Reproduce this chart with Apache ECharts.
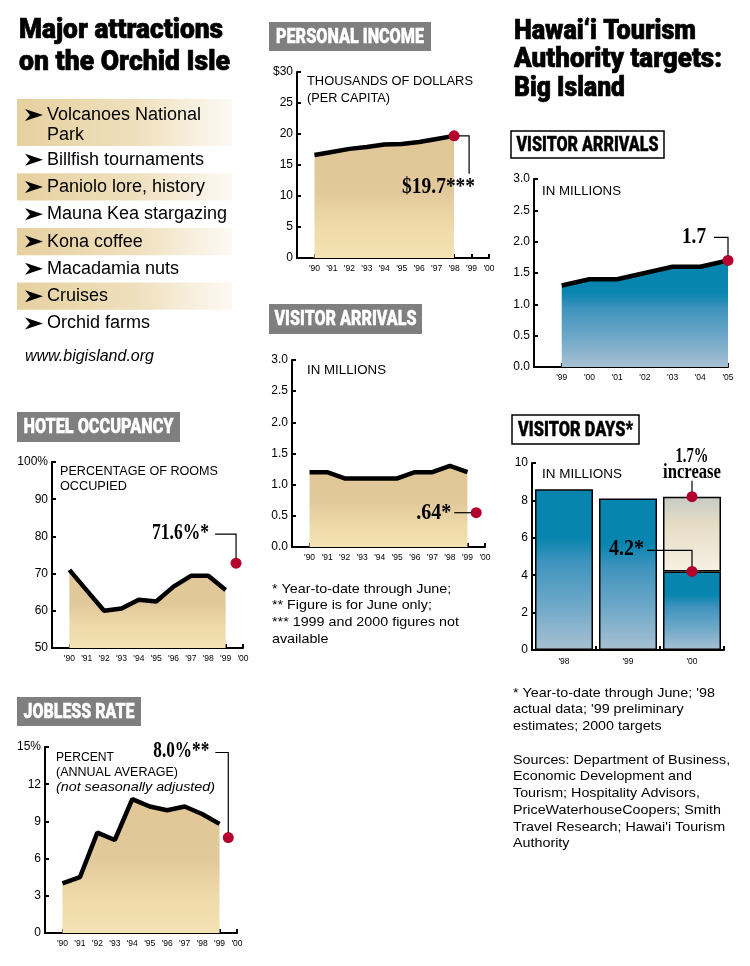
<!DOCTYPE html>
<html><head><meta charset="utf-8">
<script src="https://cdn.jsdelivr.net/npm/echarts@6/dist/echarts.min.js"></script>
<style>html,body{margin:0;padding:0;background:#fff}#c{width:750px;height:966px}</style>
</head><body><div id="c"></div>
<script>
// ---------- DATA ----------
const attractions = ['Volcanoes National\nPark', 'Billfish tournaments', 'Paniolo lore, history', 'Mauna Kea stargazing', 'Kona coffee', 'Macadamia nuts', 'Cruises', 'Orchid farms'];
const decadeYears = [1990, 1991, 1992, 1993, 1994, 1995, 1996, 1997, 1998, 1999];
const decadeTickLabels = ["'90", "'91", "'92", "'93", "'94", "'95", "'96", "'97", "'98", "'99", "'00"];
const incomeYears = [1990, 1991, 1992, 1993, 1994, 1995, 1996, 1997, 1998];
const incomeValues = [16.6, 17.1, 17.6, 17.9, 18.3, 18.4, 18.7, 19.2, 19.7];
const incomeLatest = [1998, 19.7];
const arrivalValues = [1.2, 1.2, 1.1, 1.1, 1.1, 1.1, 1.2, 1.2, 1.3, 1.2];
const arrivalYtd = [1999.5, 0.55];
const hotelValues = [71.0, 65.5, 60.0, 60.6, 63.0, 62.5, 66.5, 69.4, 69.4, 65.6];
const hotelYtd = [1999.6, 72.8];
const joblessValues = [4.0, 4.5, 8.1, 7.5, 10.8, 10.2, 9.9, 10.2, 9.6, 8.8];
const joblessJune = [1999.5, 7.7];
const targetYears = [1999, 2000, 2001, 2002, 2003, 2004, 2005];
const targetTickLabels = ["'99", "'00", "'01", "'02", "'03", "'04", "'05"];
const targetArrivals = [1.3, 1.4, 1.4, 1.5, 1.6, 1.6, 1.7];
const targetLatest = [2005, 1.7];
const dayCategories = ["'98", "'99", "'00"];
const dayBase = [8.6, 8.1, 4.2];
const dayIncrease = ['-', '-', 4.0];
const dayDots = [[2, 8.2], [2, 4.2]];

// ---------- STYLE HELPERS ----------
const mctx = document.createElement('canvas').getContext('2d');
function fit(text, font, w) { mctx.font = font; return w / mctx.measureText(text).width; }
const SANS = '"Liberation Sans", Arial, sans-serif';
const HEAVY = '900 27px Roboto, "Liberation Sans", sans-serif';
const BOX = '900 20px Roboto, "Liberation Sans", sans-serif';
const SERIF = 'bold 23px "Liberation Serif", serif';
const SERIF_S = 'bold 20px "Liberation Serif", serif';
const DOT = '#b3002d';
const tanGrad = {type: 'linear', x: 0, y: 0, x2: 0, y2: 1, colorStops: [
  {offset: 0, color: '#e1c796'}, {offset: 0.45, color: '#e2c99b'}, {offset: 0.72, color: '#eed9a9'}, {offset: 1, color: '#f4e3b5'}]};
const blueGrad = {type: 'linear', x: 0, y: 0, x2: 0, y2: 1, colorStops: [
  {offset: 0, color: '#0785af'}, {offset: 0.3, color: '#0785af'}, {offset: 0.45, color: '#3e93bd'}, {offset: 0.72, color: '#6ea8c8'}, {offset: 1, color: '#a7c0d3'}]};
const creamGrad = {type: 'linear', x: 0, y: 0, x2: 0, y2: 1, colorStops: [
  {offset: 0, color: '#c6cbc6'}, {offset: 0.35, color: '#e4dcc4'}, {offset: 1, color: '#f8f1e4'}]};

function zip(xs, ys) { return xs.map((x, i) => [x, ys[i]]); }

function xYear(g, min, max, labels) {
  return {type: 'value', gridIndex: g, min, max, interval: 1,
    axisLine: {show: true, onZero: false, lineStyle: {color: '#000', width: 2}},
    axisTick: {show: true, inside: true, length: 4, lineStyle: {color: '#000', width: 2}},
    splitLine: {show: false},
    axisLabel: {fontSize: 8.5, color: '#000', margin: 6, fontFamily: SANS,
      formatter: v => labels[Math.round(v) - min - 1] || ''}};
}
function yVal(g, min, max, interval, fmt) {
  return {type: 'value', gridIndex: g, min, max, interval,
    axisLine: {show: true, onZero: false, lineStyle: {color: '#000', width: 2}},
    axisTick: {show: true, inside: true, length: 4, lineStyle: {color: '#000', width: 2}},
    splitLine: {show: false},
    axisLabel: {fontSize: 12, color: '#000', margin: 4, fontFamily: SANS, formatter: fmt}};
}
function area(g, data, fill) {
  return {type: 'line', xAxisIndex: g, yAxisIndex: g, data, symbol: 'none', z: 2,
    lineStyle: {color: '#000', width: 4.5}, areaStyle: {color: fill, opacity: 1, origin: 'start'}};
}
function dot(g, data) {
  return {type: 'scatter', xAxisIndex: g, yAxisIndex: g, data, symbolSize: 11, z: 5,
    itemStyle: {color: DOT, opacity: 1}};
}

const grids = [
  {left: 297, top: 72, width: 192, height: 186},
  {left: 292, top: 360, width: 193, height: 187},
  {left: 52, top: 462, width: 191, height: 186},
  {left: 45, top: 747, width: 192, height: 186},
  {left: 534, top: 179, width: 194, height: 188},
  {left: 532, top: 463, width: 192, height: 187}
].map(g => Object.assign({outerBoundsMode: 'none', containLabel: false}, g));

const option = {
  animation: false,
  backgroundColor: '#fff',
  grid: grids,
  xAxis: [
    xYear(0, 1989, 2000, decadeTickLabels),
    xYear(1, 1989, 2000, decadeTickLabels),
    xYear(2, 1989, 2000, decadeTickLabels),
    xYear(3, 1989, 2000, decadeTickLabels),
    xYear(4, 1998, 2005, targetTickLabels),
    {type: 'category', gridIndex: 5, data: dayCategories,
      axisLine: {show: true, lineStyle: {color: '#000', width: 2}},
      axisTick: {show: true, inside: true, length: 4, lineStyle: {color: '#000', width: 2}},
      axisLabel: {fontSize: 8.5, color: '#000', margin: 7, fontFamily: SANS}}
  ],
  yAxis: [
    yVal(0, 0, 30, 5, v => v === 30 ? '$30' : String(v)),
    yVal(1, 0, 3, 0.5, v => v.toFixed(1)),
    yVal(2, 50, 100, 10, v => v === 100 ? '100%' : String(v)),
    yVal(3, 0, 15, 3, v => v === 15 ? '15%' : String(v)),
    yVal(4, 0, 3, 0.5, v => v.toFixed(1)),
    yVal(5, 0, 10, 2, v => String(v))
  ],
  series: [
    area(0, zip(incomeYears, incomeValues), tanGrad), dot(0, [incomeLatest]),
    area(1, zip(decadeYears, arrivalValues), tanGrad), dot(1, [arrivalYtd]),
    area(2, zip(decadeYears, hotelValues), tanGrad), dot(2, [hotelYtd]),
    area(3, zip(decadeYears, joblessValues), tanGrad), dot(3, [joblessJune]),
    area(4, zip(targetYears, targetArrivals), blueGrad), dot(4, [targetLatest]),
    {type: 'bar', xAxisIndex: 5, yAxisIndex: 5, stack: 'days', data: dayBase, barWidth: 58, z: 2,
      itemStyle: {color: blueGrad, borderColor: '#000', borderWidth: 1.5}},
    {type: 'bar', xAxisIndex: 5, yAxisIndex: 5, stack: 'days', data: dayIncrease, barWidth: 58, z: 2,
      itemStyle: {color: creamGrad, borderColor: '#000', borderWidth: 1.5}},
    {type: 'scatter', xAxisIndex: 5, yAxisIndex: 5, data: dayDots, symbolSize: 11, z: 5, itemStyle: {color: DOT, opacity: 1}}
  ]
};

const chart = echarts.init(document.getElementById('c'));
chart.setOption(option);

// ---------- GRAPHIC (text, boxes, annotations) ----------
const els = [];
function txt(text, x, y, font, opt) {
  opt = opt || {};
  const align = opt.align || 'left';
  const style = {text, font, fill: opt.fill || '#000', align, verticalAlign: 'middle', textAlign: align, textVerticalAlign: 'middle'};
  if (opt.heavy) { style.stroke = opt.fill || '#000'; style.lineWidth = opt.heavy; }
  const e = {type: 'text', x, y, z: 100, silent: true, style};
  if (opt.w) e.scaleX = fit(text, font, opt.w);
  else if (opt.sx) e.scaleX = opt.sx;
  els.push(e);
}
function rect(x, y, w, h, style) { els.push({type: 'rect', z: 90, silent: true, shape: {x, y, width: w, height: h}, style}); }
function poly(points) { els.push({type: 'polyline', z: 100, silent: true, shape: {points}, style: {stroke: '#000', lineWidth: 1.2, fill: null}}); }

// Left title
txt('Major attractions', 19, 31, HEAVY, {w: 204, heavy: 0.7});
txt('on the Orchid Isle', 19, 63, HEAVY, {w: 211, heavy: 0.7});
// Right title
txt('Hawai\u2018i Tourism', 514, 32, HEAVY, {w: 182, heavy: 0.7});
txt('Authority targets:', 514, 60, HEAVY, {w: 208, heavy: 0.7});
txt('Big Island', 514, 89, HEAVY, {w: 111, heavy: 0.7});

// Attractions list
const bandGrad = {type: 'linear', x: 0, y: 0, x2: 1, y2: 0, colorStops: [
  {offset: 0, color: '#e6d09f'}, {offset: 0.55, color: '#efe0bd'}, {offset: 1, color: '#fdfaf4'}]};
let yTop = 99;
attractions.forEach((item, i) => {
  const lines = item.split('\n');
  const h = lines.length > 1 ? 47 : 27.3;
  if (i % 2 === 0) rect(17, yTop, 215, h, {fill: bandGrad});
  const first = lines.length > 1 ? yTop + 16 : yTop + h / 2;
  lines.forEach((ln, k) => txt(ln, 47, first + k * 20, '18px ' + SANS));
  els.push({type: 'polygon', z: 100, silent: true,
    shape: {points: [[25, first - 6], [43, first], [25, first + 6], [30, first]]}, style: {fill: '#000'}});
  yTop += h;
});
txt('www.bigisland.org', 25, 357, 'italic 16px ' + SANS);

// Section boxes
function greyBox(label, x, y, w, h, tw) {
  rect(x, y, w, h, {fill: '#7f7f7f'});
  txt(label, x + w / 2, y + h / 2 + 1, BOX, {align: 'center', fill: '#fff', w: tw, heavy: 0.4});
}
function whiteBox(label, x, y, w, h, tw) {
  rect(x, y, w, h, {fill: '#fff', stroke: '#000', lineWidth: 1.5});
  txt(label, x + w / 2, y + h / 2 + 1, BOX, {align: 'center', w: tw, heavy: 0.4});
}
greyBox('PERSONAL INCOME', 269, 22, 162, 29, 148);
greyBox('VISITOR ARRIVALS', 269, 304, 153, 30, 142);
greyBox('HOTEL OCCUPANCY', 17, 412, 163, 30, 150);
greyBox('JOBLESS RATE', 17, 697, 124, 29, 111);
whiteBox('VISITOR ARRIVALS', 511, 131, 153, 27, 142);
whiteBox('VISITOR DAYS*', 512, 415, 127, 29, 115);

// Chart captions
const CAP = '12px ' + SANS;
txt('THOUSANDS OF DOLLARS', 307, 82, CAP, {w: 166});
txt('(PER CAPITA)', 307, 99, CAP, {w: 83});
txt('IN MILLIONS', 307, 371, CAP, {w: 79});
txt('PERCENTAGE OF ROOMS', 60, 472, CAP, {w: 158});
txt('OCCUPIED', 60, 487, CAP, {w: 67});
txt('PERCENT', 56, 758, CAP, {w: 58});
txt('(ANNUAL AVERAGE)', 56, 773, CAP, {w: 122});
txt('(not seasonally adjusted)', 56, 788, 'italic 12px ' + SANS, {w: 159});
txt('IN MILLIONS', 542, 192, CAP, {w: 79});
txt('IN MILLIONS', 542, 475, CAP, {w: 80});

// Footnotes
const FN = '13.5px ' + SANS;
['* Year-to-date through June;', '** Figure is for June only;', '*** 1999 and 2000 figures not', 'available']
  .forEach((t, i) => txt(t, 272, 589 + i * 16.7, FN, {sx: 1.06}));
['* Year-to-date through June; \'98', 'actual data; \'99 preliminary', 'estimates; 2000 targets']
  .forEach((t, i) => txt(t, 513, 693 + i * 16.7, FN, {sx: 1.06}));
['Sources: Department of Business,', 'Economic Development and', 'Tourism; Hospitality Advisors,', 'PriceWaterhouseCoopers; Smith', 'Travel Research; Hawai\'i Tourism', 'Authority']
  .forEach((t, i) => txt(t, 513, 760 + i * 16.7, FN, {sx: 1.06}));

// Annotations anchored on the data points
function px(g, pt) { return chart.convertToPixel({gridIndex: g}, pt); }
let p = px(0, incomeLatest);
txt('$19.7***', p[0] + 21, p[1] + 51, SERIF, {align: 'right', w: 73});
poly([[p[0] + 5, p[1]], [p[0] + 15, p[1]], [p[0] + 15, p[1] + 38]]);
p = px(1, arrivalYtd);
txt('.64*', p[0] - 25, p[1], SERIF, {align: 'right', w: 35});
poly([[p[0] - 22, p[1]], [p[0] - 5, p[1]]]);
p = px(2, hotelYtd);
txt('71.6%*', p[0] - 27, p[1] - 30, SERIF, {align: 'right', w: 57});
poly([[p[0] - 21, p[1] - 29], [p[0], p[1] - 29], [p[0], p[1] - 5]]);
p = px(3, joblessJune);
txt('8.0%**', p[0] - 19, p[1] - 86, SERIF, {align: 'right', w: 56});
poly([[p[0] - 13, p[1] - 85], [p[0], p[1] - 85], [p[0], p[1] - 5]]);
p = px(4, targetLatest);
txt('1.7', p[0] - 22, p[1] - 23, SERIF, {align: 'right', w: 24});
poly([[p[0] - 14, p[1] - 23], [p[0], p[1] - 23], [p[0], p[1] - 5]]);
p = px(5, dayDots[0]);
txt('1.7%', p[0], p[1] - 40, SERIF_S, {align: 'center', w: 33});
txt('increase', p[0], p[1] - 24, SERIF_S, {align: 'center', w: 58});
poly([[p[0], p[1] - 16], [p[0], p[1] - 5]]);
p = px(5, dayDots[1]);
txt('4.2*', p[0] - 48, p[1] - 22, SERIF, {align: 'right', w: 35});
poly([[p[0] - 45, p[1] - 21], [p[0], p[1] - 21], [p[0], p[1] - 5]]);

chart.setOption({graphic: {elements: els}});
</script></body></html>
